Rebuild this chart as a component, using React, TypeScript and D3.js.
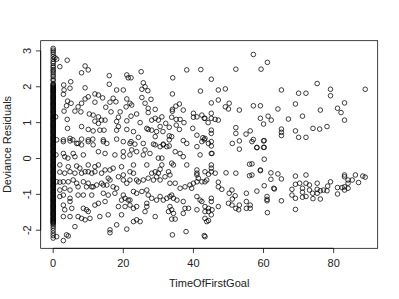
import React from 'react';
import * as d3 from 'd3';

// deviance residuals of games where the first goal came at minute 0 (a packed column)
const residualsAtZero: number[] = [
  3.07, 3.02, 2.97, 2.91, 2.84, 2.77, 2.70, 2.65, 2.58, 2.54, 2.48, 2.44, 2.39, 2.33, 2.28, 2.21, 2.17, 2.09,
  2.06, 2.04, 2.02, 2.00, 1.97, 1.95, 1.93, 1.91, 1.89, 1.87, 1.85, 1.83, 1.81, 1.78, 1.76, 1.74, 1.72, 1.70, 1.68, 1.66,
  1.64, 1.62, 1.59, 1.57, 1.55, 1.53, 1.51, 1.49, 1.47, 1.45, 1.43, 1.40, 1.38, 1.36, 1.34, 1.32, 1.30, 1.28, 1.26, 1.24,
  1.21, 1.19, 1.17, 1.15, 1.13, 1.11, 1.09, 1.07, 1.05, 1.02, 1.00, 0.98, 0.96, 0.94, 0.92, 0.90, 0.88, 0.86, 0.83, 0.81,
  0.79, 0.77, 0.75, 0.73, 0.71, 0.69, 0.67, 0.64, 0.62, 0.60, 0.58, 0.56, 0.54, 0.52, 0.50, 0.48, 0.45, 0.43, 0.41, 0.39,
  0.37, 0.35, 0.33, 0.31, 0.29, 0.26, 0.24, 0.22, 0.20, 0.18, 0.16, 0.14, 0.12, 0.10, 0.07, 0.05, 0.03, 0.01, -0.01, -0.03,
  -0.05, -0.07, -0.09, -0.12, -0.14, -0.16, -0.18, -0.20, -0.22, -0.24, -0.26, -0.28, -0.31, -0.33, -0.35, -0.37, -0.39,
  -0.41, -0.43, -0.45, -0.47, -0.50, -0.52, -0.54, -0.56, -0.58, -0.60, -0.62, -0.64, -0.66, -0.69, -0.71, -0.73, -0.75,
  -0.77, -0.79, -0.81, -0.83, -0.85, -0.88, -0.90, -0.92, -0.94, -0.96, -0.98, -1.00, -1.02, -1.04, -1.07, -1.09, -1.11,
  -1.13, -1.15, -1.17, -1.19, -1.21, -1.23, -1.26, -1.28, -1.30, -1.32, -1.34, -1.36, -1.38, -1.40, -1.42, -1.45, -1.47,
  -1.49, -1.51, -1.53, -1.55, -1.57, -1.59, -1.61, -1.64, -1.66, -1.68, -1.70, -1.72, -1.74, -1.76, -1.78, -1.80, -1.83,
  -1.88, -1.94, -2.01, -2.08, -2.15, -2.22,
];

// [TimeOfFirstGoal, residual], minutes 0-22
const earlyGoals: [number, number][] = [
  [0.5, 2.81], [1.0, 2.77], [4.0, 2.74], [1.9, 2.56], [9.1, 2.58], [10.0, 2.47], [8.1, 2.39], [16.0, 2.31],
  [21.0, 2.33], [21.4, 2.25], [3.0, 2.05], [5.0, 2.14], [9.1, 1.97], [16.0, 2.07], [18.1, 1.91], [20.0, 1.91],
  [3.1, 1.91], [4.8, 1.96], [2.9, 1.79], [10.0, 1.72], [11.9, 1.80], [12.9, 1.77], [14.1, 1.69], [9.1, 1.66],
  [4.1, 1.60], [5.1, 1.54], [3.8, 1.47], [8.1, 1.54], [11.9, 1.57], [16.2, 1.57], [17.9, 1.58], [17.1, 1.68],
  [21.0, 1.66], [21.9, 1.54], [20.8, 1.44], [15.0, 1.43], [7.1, 1.44], [6.2, 1.32], [7.9, 1.30], [3.1, 1.32],
  [19.1, 1.30], [16.5, 1.30], [10.3, 1.24], [11.4, 1.21], [12.9, 1.16], [18.6, 1.15], [0.7, 1.16], [4.0, 1.09],
  [13.8, 1.07], [14.8, 1.07], [11.9, 1.04], [18.1, 1.03], [21.0, 1.05], [12.9, 0.98], [18.6, 0.89], [8.1, 0.89],
  [10.0, 0.81], [11.4, 0.77], [13.3, 0.79], [14.5, 0.79], [18.1, 0.79], [21.0, 0.81], [4.1, 0.84], [1.0, 0.52],
  [2.9, 0.52], [4.8, 0.56], [5.6, 0.52], [8.1, 0.54], [10.0, 0.52], [11.3, 0.54], [14.3, 0.52], [18.1, 0.54],
  [21.9, 0.42], [7.1, 0.42], [2.9, 0.47], [4.8, 0.49], [6.7, 0.42], [8.1, 0.38], [10.0, 0.47], [11.4, 0.38],
  [14.3, 0.47], [15.3, 0.42], [20.0, 0.47], [0.8, 0.10], [2.9, 0.14], [3.3, 0.05], [4.2, 0.01], [5.7, 0.14],
  [8.6, 0.10], [6.2, 0.05], [12.9, 0.19], [14.8, 0.14], [17.6, 0.10], [20.0, 0.19], [20.0, 0.05], [21.9, 0.10],
  [1.9, -0.18], [4.3, -0.23], [6.7, -0.21], [7.6, -0.27], [10.0, -0.18], [11.9, -0.23], [12.9, -0.18],
  [14.8, -0.32], [16.2, -0.32], [17.1, -0.27], [19.5, -0.23], [1.9, -0.38], [3.3, -0.41], [4.8, -0.37],
  [6.2, -0.41], [8.1, -0.41], [9.1, -0.37], [10.0, -0.37], [11.0, -0.41], [11.9, -0.37], [13.8, -0.41],
  [15.7, -0.55], [18.6, -0.51], [20.0, -0.46], [20.0, -0.60], [21.9, -0.37], [1.0, -0.65], [1.9, -0.66],
  [2.9, -0.65], [4.3, -0.65], [5.7, -0.60], [6.7, -0.69], [8.6, -0.65], [10.0, -0.69], [11.0, -0.79],
  [12.4, -0.74], [13.8, -0.69], [14.3, -0.74], [15.3, -0.74], [16.2, -0.60], [17.1, -0.79], [18.1, -0.83],
  [21.0, -0.69], [1.9, -0.88], [3.3, -0.83], [4.8, -0.88], [7.1, -0.79], [9.5, -0.79], [11.4, -0.79],
  [1.9, -1.06], [2.9, -1.02], [4.8, -1.11], [4.8, -1.20], [7.1, -1.02], [8.6, -1.02], [11.0, -1.02],
  [14.3, -0.97], [15.7, -1.02], [17.6, -0.97], [20.0, -1.02], [20.5, -1.11], [19.5, -1.16], [21.4, -1.16],
  [2.9, -1.30], [3.3, -1.43], [5.3, -1.39], [8.6, -1.39], [9.5, -1.43], [10.0, -1.48], [11.9, -1.30],
  [12.9, -1.25], [14.8, -1.20], [18.6, -1.34], [20.5, -1.34], [21.9, -1.30], [2.9, -1.62], [4.8, -1.62],
  [7.1, -1.62], [8.1, -1.67], [9.1, -1.71], [10.5, -1.67], [13.3, -1.62], [15.7, -1.57], [19.5, -1.57],
  [6.2, -1.90], [16.2, -1.99], [18.1, -1.85], [21.0, -1.97], [1.0, -2.18], [2.9, -2.29], [3.8, -2.13],
  [4.3, -2.16], [16.2, -2.07],
];

// minutes 22-45
const midGoals: [number, number][] = [
  [25.1, 2.42], [22.2, 2.25], [34.1, 2.25], [38.1, 2.47], [42.1, 2.48], [42.0, 1.88], [34.0, 1.80],
  [25.7, 2.11], [26.2, 2.00], [25.3, 1.93], [27.0, 1.89], [25.3, 1.70], [27.9, 1.65], [26.2, 1.54],
  [22.4, 1.49], [36.0, 1.52], [35.0, 1.46], [34.0, 1.37], [34.0, 1.32], [37.1, 1.35], [27.1, 1.40],
  [29.1, 1.37], [27.1, 1.28], [23.8, 1.24], [22.2, 1.18], [31.0, 1.16], [29.1, 1.12], [28.1, 1.07],
  [30.0, 1.07], [33.8, 1.15], [35.1, 1.09], [36.2, 1.09], [40.0, 1.26], [40.0, 1.15], [41.0, 1.16],
  [42.4, 1.21], [43.1, 1.12], [37.3, 1.00], [44.2, 1.00], [24.8, 1.00], [26.7, 0.84], [27.1, 0.81],
  [28.1, 0.79], [29.5, 0.75], [30.5, 0.89], [31.3, 0.75], [32.1, 0.98], [33.1, 0.87], [35.1, 0.93],
  [36.0, 0.81], [39.8, 0.84], [22.9, 0.75], [24.3, 0.59], [29.1, 0.61], [33.1, 0.63], [33.1, 0.52],
  [33.1, 0.35], [33.8, 0.61], [41.0, 0.65], [42.7, 0.58], [43.1, 0.52], [37.1, 0.50], [22.2, 0.47],
  [25.7, 0.42], [28.6, 0.40], [31.4, 0.40], [38.1, 0.42], [44.3, 0.42], [23.3, 0.40], [22.4, 0.24],
  [23.8, 0.19], [26.2, 0.24], [25.7, 0.10], [27.6, 0.14], [29.1, 0.38], [30.5, 0.33], [31.4, 0.38],
  [32.4, 0.33], [34.8, 0.19], [36.2, 0.14], [37.1, 0.05], [41.0, 0.33], [42.4, 0.47], [41.9, 0.10],
  [45.3, 0.14], [30.0, 0.01], [31.0, 0.01], [33.8, -0.13], [34.3, -0.18], [22.9, -0.18], [26.7, -0.18],
  [31.0, -0.18], [30.5, -0.30], [38.1, -0.18], [41.0, -0.32], [41.0, -0.41], [43.3, -0.37], [28.1, -0.41],
  [29.1, -0.37], [30.0, -0.41], [29.5, -0.51], [31.9, -0.51], [32.9, -0.37], [33.3, -0.46], [22.9, -0.41],
  [21.9, -0.60], [23.8, -0.60], [24.3, -0.65], [25.7, -0.60], [27.1, -0.55], [28.6, -0.60], [30.5, -0.60],
  [33.3, -0.69], [34.8, -0.69], [36.2, -0.83], [37.6, -0.79], [39.0, -0.74], [40.0, -0.69], [41.0, -0.46],
  [41.4, -0.55], [41.0, -0.65], [42.4, -0.65], [43.8, -0.60], [39.5, -0.83], [22.9, -0.92], [23.8, -0.97],
  [25.3, -0.92], [26.7, -0.88], [27.1, -1.02], [28.1, -1.11], [29.5, -1.16], [30.5, -1.06], [31.4, -1.16],
  [32.4, -1.11], [33.3, -1.06], [33.8, -1.02], [34.3, -1.11], [35.3, -1.16], [21.9, -1.16], [37.1, -1.20],
  [41.0, -1.06], [41.9, -1.16], [42.4, -1.20], [22.9, -1.39], [23.8, -1.34], [26.7, -1.25], [26.7, -1.34],
  [26.2, -1.48], [33.3, -1.34], [33.8, -1.43], [32.9, -1.48], [34.3, -1.53], [37.6, -1.39], [37.1, -1.53],
  [38.6, -1.39], [41.0, -1.43], [43.3, -1.48], [44.3, -1.39], [22.9, -1.76], [23.8, -1.71], [24.8, -1.76],
  [29.1, -1.62], [33.8, -1.69], [34.8, -1.69], [43.3, -1.67], [44.3, -1.73], [37.9, -2.04], [34.0, -2.13],
  [43.1, -2.15], [43.3, 1.12], [43.3, 0.56], [43.3, -0.65], [44.3, -0.44], [43.3, -1.34], [44.3, -1.48],
  [43.8, -1.76], [43.3, -2.18],
];

// minutes 45-65
const lateGoals: [number, number][] = [
  [57.1, 2.90], [61.1, 2.68], [59.3, 2.49], [52.1, 2.49], [45.1, 2.21], [47.1, 1.91], [49.1, 1.94],
  [45.1, 1.55], [47.1, 1.63], [49.1, 1.44], [50.2, 1.54], [50.0, 1.38], [53.1, 1.35], [57.1, 1.47],
  [59.1, 1.47], [45.1, 1.26], [45.1, 1.12], [46.2, 1.09], [47.1, 1.07], [59.1, 1.12], [61.3, 1.18],
  [62.2, 1.07], [60.0, 0.96], [52.1, 0.86], [52.1, 0.70], [45.1, 0.79], [45.1, 0.70], [53.1, 0.49],
  [51.1, 0.42], [53.1, 0.26], [55.0, 0.68], [56.2, 0.77], [57.1, 0.53], [58.1, 0.30], [60.2, 0.50],
  [60.2, 0.31], [45.1, 0.47], [45.1, 0.35], [45.1, 0.14], [60.2, -0.02], [56.0, -0.16], [56.0, -0.48],
  [45.1, -0.18], [45.1, -0.27], [45.1, -0.37], [46.2, -0.41], [47.1, -0.66], [47.1, -0.79], [48.1, -0.86],
  [49.3, -0.40], [52.1, -0.41], [59.1, -0.32], [62.1, -0.40], [62.1, -0.58], [60.2, -0.76], [62.9, -0.83],
  [51.0, -0.88], [50.2, -0.97], [51.9, -1.04], [51.1, -1.13], [50.0, -1.25], [51.0, -1.30], [52.1, -1.39],
  [53.1, -1.30], [52.9, -1.43], [55.1, -0.97], [55.1, -1.20], [55.1, -1.39], [56.2, -1.30], [56.2, -1.39],
  [58.1, -0.91], [61.0, -1.06], [61.0, -1.14], [61.0, -1.18], [61.1, -1.51], [45.1, -1.11], [45.1, -1.20],
  [45.3, -1.43], [45.1, -1.57], [47.1, -1.34], [56.7, 0.47], [56.7, -0.15], [59.1, -0.34], [56.7, -0.46],
  [60.0, 0.49], [58.1, 0.31], [60.0, 0.31], [64.1, -0.43], [65.1, -0.57], [63.1, -0.85], [65.1, -1.18],
  [64.1, 1.38], [65.1, 1.91], [65.1, 0.82], [65.1, 0.73], [65.1, 0.64],
];

// minutes 65-89
const finalGoals: [number, number][] = [
  [75.3, 2.09], [79.1, 1.93], [79.1, 1.75], [89.0, 1.93], [70.0, 1.82], [72.1, 1.82], [83.1, 1.55],
  [81.1, 1.40], [82.1, 1.28], [83.1, 1.07], [76.2, 1.35], [71.1, 1.18], [69.1, 1.52], [67.1, 1.10],
  [69.1, 0.77], [70.0, 0.59], [72.1, 0.59], [74.1, 0.84], [76.0, 0.82], [78.1, 0.89], [69.1, -0.49],
  [72.1, -0.46], [69.1, -0.72], [70.3, -0.69], [72.1, -0.69], [73.1, -0.74], [75.3, -0.69], [68.1, -0.86],
  [71.1, -0.83], [73.1, -0.88], [75.3, -0.86], [76.2, -0.90], [77.1, -0.88], [78.3, -0.77], [79.1, -0.65],
  [68.1, -1.02], [71.1, -0.94], [74.0, -0.97], [75.3, -0.97], [69.1, -1.11], [71.1, -1.08], [72.1, -1.06],
  [74.1, -1.12], [76.2, -1.13], [78.1, -0.90], [69.1, -1.42], [81.1, -0.81], [82.4, -0.81], [83.1, -0.79],
  [83.1, -0.51], [83.1, -0.46], [84.1, -0.60], [84.1, -0.69], [83.1, -0.88], [84.1, -0.83], [81.1, -0.99],
  [85.3, -0.60], [86.2, -0.46], [87.1, -0.67], [88.3, -0.49], [89.0, -0.52],
];

const xTicks = [0, 20, 40, 60, 80];
const yTicks = [-2, -1, 0, 1, 2, 3];

const width = 399;
const height = 299;
const margin = { top: 40.7, right: 21.3, bottom: 50.7, left: 40.7 };

const App = () => {
  const { top, right, bottom, left } = margin;
  const points: [number, number][] = [
    ...residualsAtZero.map(r => [0, r] as [number, number]),
    ...earlyGoals,
    ...midGoals,
    ...lateGoals,
    ...finalGoals,
  ];

  // R style axis range: data extent padded by 4% on each side
  const pad = (ext: [number, number]) => {
    const d = (ext[1] - ext[0]) * 0.04;
    return [ext[0] - d, ext[1] + d];
  };
  const xExt = d3.extent(points, d => d[0]) as [number, number];
  const yExt = d3.extent(points, d => d[1]) as [number, number];

  const xScale = d3.scaleLinear().domain(pad(xExt)).range([left, width - right]);
  const yScale = d3.scaleLinear().domain(pad(yExt)).range([height - bottom, top]);

  const plotBottom = height - bottom;
  const font = '"Liberation Sans", Arial, Helvetica, sans-serif';

  return (
    <svg
      width={width}
      height={height}
      style={{ position: 'fixed', left: 0, top: 0, background: '#fff' }}
      fontFamily={font}
      fontSize={11}
    >
      <rect x={0} y={0} width={width} height={height} fill="#fff" />
      {points.map((d, i) => (
        <circle
          key={i}
          cx={xScale(d[0])}
          cy={yScale(d[1])}
          r={2.3}
          fill="none"
          stroke="#000"
          strokeWidth={0.75}
        />
      ))}
      <rect
        x={left}
        y={top}
        width={width - left - right}
        height={height - top - bottom}
        fill="none"
        stroke="#000"
        strokeWidth={0.75}
      />
      {/* x axis */}
      <line x1={xScale(xTicks[0])} x2={xScale(xTicks[xTicks.length - 1])} y1={plotBottom} y2={plotBottom} stroke="#000" strokeWidth={0.75} />
      {xTicks.map(t => (
        <g key={t} transform={`translate(${xScale(t)}, ${plotBottom})`}>
          <line y2={4.8} stroke="#000" strokeWidth={0.75} />
          <text y={18.5} textAnchor="middle" fill="#222">{t}</text>
        </g>
      ))}
      {/* y axis */}
      <line x1={left} x2={left} y1={yScale(yTicks[0])} y2={yScale(yTicks[yTicks.length - 1])} stroke="#000" strokeWidth={0.75} />
      {yTicks.map(t => (
        <g key={t} transform={`translate(${left}, ${yScale(t)})`}>
          <line x2={-4.8} stroke="#000" strokeWidth={0.75} />
          <text transform="translate(-9.8, 0) rotate(-90)" textAnchor="middle" fill="#222">{String(t)}</text>
        </g>
      ))}
      <text x={(left + width - right) / 2} y={287} textAnchor="middle" fill="#222">TimeOfFirstGoal</text>
      <text
        transform={`translate(10.8, ${(top + height - bottom) / 2}) rotate(-90)`}
        textAnchor="middle"
        fill="#222"
      >
        Deviance Residuals
      </text>
    </svg>
  );
};

export default App;
